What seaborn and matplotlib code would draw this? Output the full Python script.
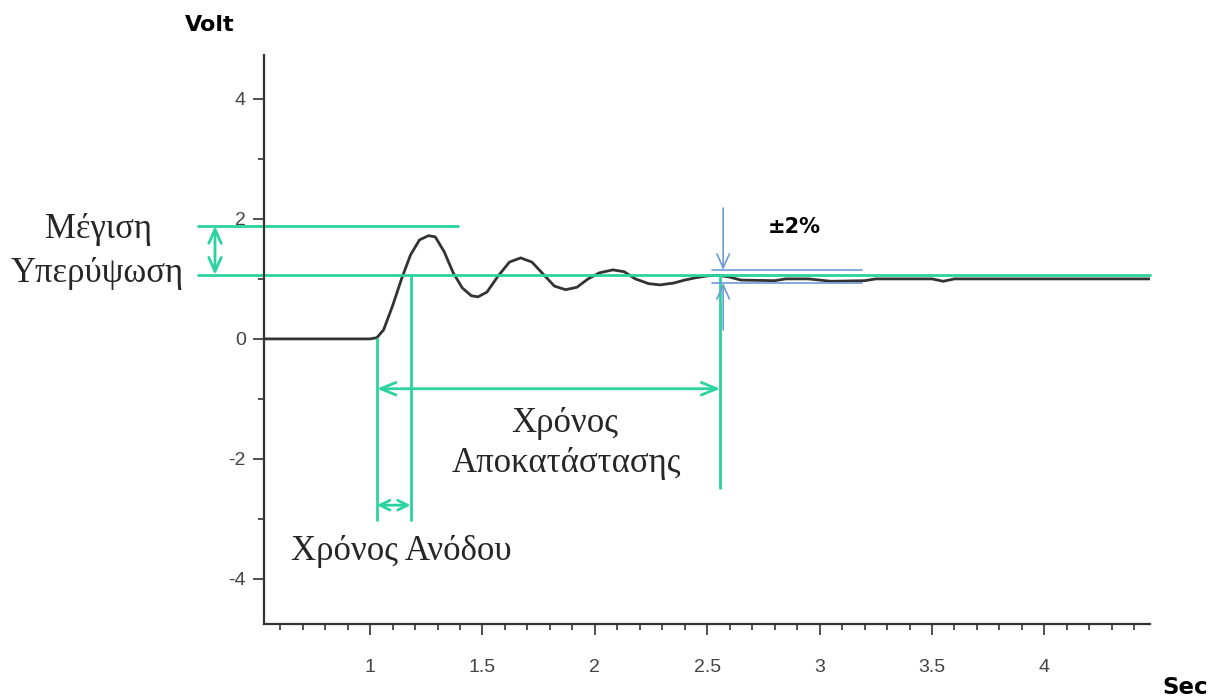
import matplotlib
matplotlib.use("Agg")
import matplotlib.pyplot as plt
from matplotlib.ticker import MultipleLocator, FormatStrFormatter
import pandas as pd
import seaborn as sns

# step response (seconds, volts)
time_s = [0.53, 0.80, 1.00, 1.03, 1.06, 1.10, 1.14, 1.18, 1.22, 1.26, 1.29, 1.33,
          1.37, 1.41, 1.45, 1.48, 1.52, 1.57, 1.62, 1.67, 1.72, 1.77, 1.82, 1.87,
          1.92, 1.97, 2.02, 2.08, 2.13, 2.18, 2.24, 2.29, 2.35, 2.40, 2.45, 2.50,
          2.55, 2.60, 2.65, 2.80, 2.85, 2.95, 3.05, 3.20, 3.25, 3.50, 3.55, 3.60,
          4.00, 4.47]
volts = [0.0, 0.0, 0.0, 0.02, 0.15, 0.55, 1.00, 1.40, 1.65, 1.72, 1.70, 1.45,
         1.10, 0.85, 0.72, 0.70, 0.78, 1.05, 1.28, 1.35, 1.28, 1.08, 0.88, 0.82,
         0.86, 1.00, 1.10, 1.15, 1.12, 1.00, 0.92, 0.90, 0.93, 0.98, 1.02, 1.05,
         1.06, 1.03, 0.98, 0.97, 1.00, 1.00, 0.96, 0.97, 1.00, 1.00, 0.96, 1.00,
         1.00, 1.00]

# annotation levels / instants
peak_level = 1.88
steady_level = 1.07
band_levels = [1.15, 0.93]
rise_times = [1.031, 1.18]
settle_time = 2.558
ylims = [-4.75, 4.73]
xlims = [0.528, 4.47]

green = "#2bd39e"
blue = "#6e9ad6"
dark = "#333333"

sns.set_style("white")
plt.rcParams["font.family"] = ["Liberation Sans", "DejaVu Sans"]
plt.rcParams["axes.unicode_minus"] = False

fig = plt.figure(figsize=(12.08, 6.99), dpi=100)
ax = fig.add_axes([264 / 1208, 1 - 624 / 699, (1150 - 264) / 1208, (624 - 55) / 699])

df = pd.DataFrame({"t": time_s, "v": volts})
sns.lineplot(data=df, x="t", y="v", ax=ax, color=dark, lw=2)

ax.set_xlim(*xlims)
ax.set_ylim(*ylims)
ax.set_xlabel("")
ax.set_ylabel("")
for s in ["top", "right"]:
    ax.spines[s].set_visible(False)
for s in ["left", "bottom"]:
    ax.spines[s].set_color(dark)
    ax.spines[s].set_linewidth(1.6)

ax.xaxis.set_major_locator(MultipleLocator(0.5))
ax.xaxis.set_minor_locator(MultipleLocator(0.1))
ax.xaxis.set_major_formatter(FormatStrFormatter("%g"))
ax.yaxis.set_major_locator(MultipleLocator(2))
ax.yaxis.set_minor_locator(MultipleLocator(1))
ax.tick_params(which="both", direction="out", colors=dark, width=1.2,
               labelcolor="#444444", labelsize=14)
ax.tick_params(axis="x", which="both", bottom=True, pad=17)
ax.tick_params(axis="y", which="both", left=True, pad=5)
ax.tick_params(which="major", length=8)
ax.tick_params(which="minor", length=4.3)

x_left = 0.234
# overshoot lines
ax.plot([x_left, 1.39], [peak_level, peak_level], color=green, lw=2, clip_on=False)
ax.plot([x_left, xlims[1]], [steady_level, steady_level], color=green, lw=2, clip_on=False)
ax.annotate("", xy=(0.31, peak_level), xytext=(0.31, steady_level),
            arrowprops=dict(arrowstyle="<->,head_length=1.0,head_width=0.45",
                            color=green, lw=2, shrinkA=0, shrinkB=0),
            annotation_clip=False)

# rise / settling verticals
ax.plot([rise_times[0]] * 2, [0, -3.02], color=green, lw=2)
ax.plot([rise_times[1]] * 2, [steady_level, -3.02], color=green, lw=2)
ax.plot([settle_time] * 2, [steady_level, -2.48], color=green, lw=2)
ax.annotate("", xy=(rise_times[0], -0.83), xytext=(settle_time, -0.83),
            arrowprops=dict(arrowstyle="<->,head_length=1.1,head_width=0.45",
                            color=green, lw=2, shrinkA=0, shrinkB=0))
ax.annotate("", xy=(rise_times[0], -2.77), xytext=(rise_times[1], -2.77),
            arrowprops=dict(arrowstyle="<->,head_length=0.7,head_width=0.35",
                            color=green, lw=2, shrinkA=0, shrinkB=0))

# +-2% band
for lv in band_levels:
    ax.plot([2.52, 3.19], [lv, lv], color=blue, lw=1.2)
ax.annotate("", xy=(2.571, band_levels[0]), xytext=(2.571, 2.18),
            arrowprops=dict(arrowstyle="->,head_length=1.0,head_width=0.45",
                            color=blue, lw=1.2, shrinkA=0, shrinkB=0))
ax.annotate("", xy=(2.571, band_levels[1]), xytext=(2.571, 0.15),
            arrowprops=dict(arrowstyle="->,head_length=1.0,head_width=0.45",
                            color=blue, lw=1.2, shrinkA=0, shrinkB=0))

def fx(px):
    return px / 1208

def fy(py):
    return 1 - py / 699

serif = ["Liberation Serif", "DejaVu Serif"]
bold = dict(family="DejaVu Sans", weight="bold", color="black")
fig.text(fx(185), fy(25), "Volt", ha="left", va="center", fontsize=16, **bold)
fig.text(fx(1162), fy(676), "Sec", ha="left", va="top", fontsize=16.5, **bold)
fig.text(fx(768), fy(227), "±2%", ha="left", va="center", fontsize=15, **bold)

fig.text(fx(98), fy(229), "Μέγιση", ha="center", va="center", fontsize=25, family=serif)
fig.text(fx(97), fy(273), "Υπερύψωση", ha="center", va="center", fontsize=25, family=serif)
fig.text(fx(565), fy(423), "Χρόνος", ha="center", va="center", fontsize=25, family=serif)
fig.text(fx(566), fy(464), "Αποκατάστασης", ha="center", va="center", fontsize=25, family=serif)
fig.text(fx(401), fy(551), "Χρόνος Ανόδου", ha="center", va="center", fontsize=25, family=serif)

fig.savefig("out.png", dpi=100)
